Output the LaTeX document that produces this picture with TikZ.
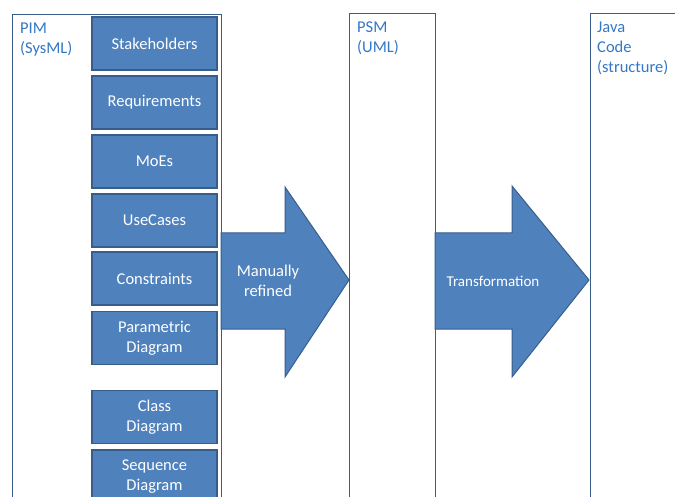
\documentclass[tikz,border=0pt]{standalone}
\usepackage{fontspec}
\setmainfont{Carlito}

\definecolor{boxblue}{RGB}{79,129,189}
\definecolor{edgeblue}{RGB}{56,93,138}
\definecolor{labelblue}{RGB}{52,120,198}

\tikzset{
  model/.style={draw=edgeblue, line width=1.3pt, fill=white, anchor=north west,
    inner sep=0pt, minimum height=500pt},
  modelname/.style={text=labelblue, anchor=north west, align=left, inner sep=0pt,
    font=\fontsize{16.5}{20}\selectfont},
  part/.style={draw=edgeblue, line width=1.2pt, fill=boxblue, text=white,
    minimum width=125pt, minimum height=53pt, inner sep=0pt, align=center,
    font=\fontsize{16.5}{20}\selectfont},
  bigarrow/.style={draw=edgeblue, line width=1pt, fill=boxblue},
  arrowtext/.style={text=white, align=center, inner sep=0pt}
}

\begin{document}
\begin{tikzpicture}[x=1pt, y=-1pt]
  \useasboundingbox (0,0) rectangle (675,497);
  \clip (0,0) rectangle (675,497);

  % the three models
  \node[model, minimum width=209pt] (pim)  at (12,14)  {};
  \node[model, minimum width=86pt]  (psm)  at (349,13) {};
  \node[model, minimum width=110pt] (java) at (590,13) {};

  \node[modelname] (pimname)  at (20,22.7)  {PIM\\(SysML)};
  \node[modelname] (psmname)  at (357,21.7) {PSM\\(UML)};
  \node[modelname] (javaname) at (597,21.7) {Java\\Code\\(structure)};

  % SysML parts
  \node[part] (stake)    at (154.5,43.5)  {Stakeholders};
  \node[part] (req)      at (154.5,102.5) {Requirements};
  \node[part] (moes)     at (154.5,161.5) {MoEs};
  \node[part] (usecases) at (154.5,220.5) {UseCases};
  \node[part] (constr)   at (154.5,278.5) {Constraints};
  \node[part] (param)    at (154.5,338)   {Parametric\\Diagram};
  \node[part] (class)    at (154.5,417)   {Class\\Diagram};
  \node[part] (seq)      at (154.5,476.5) {Sequence\\Diagram};

  % block arrows
  \draw[bigarrow] (221,233) -- (285,233) -- (285,187) -- (349,280)
    -- (285,377) -- (285,329) -- (221,329) -- cycle;
  \draw[bigarrow] (435,233) -- (512,233) -- (512,186) -- (589,280)
    -- (512,377) -- (512,329) -- (435,329) -- cycle;

  \node[arrowtext, font=\fontsize{16.5}{20}\selectfont] (refined) at (268,281) {Manually\\refined};
  \node[arrowtext, font=\fontsize{15}{18}\selectfont] (transf) at (493,281) {Transformation};
\end{tikzpicture}
\end{document}
